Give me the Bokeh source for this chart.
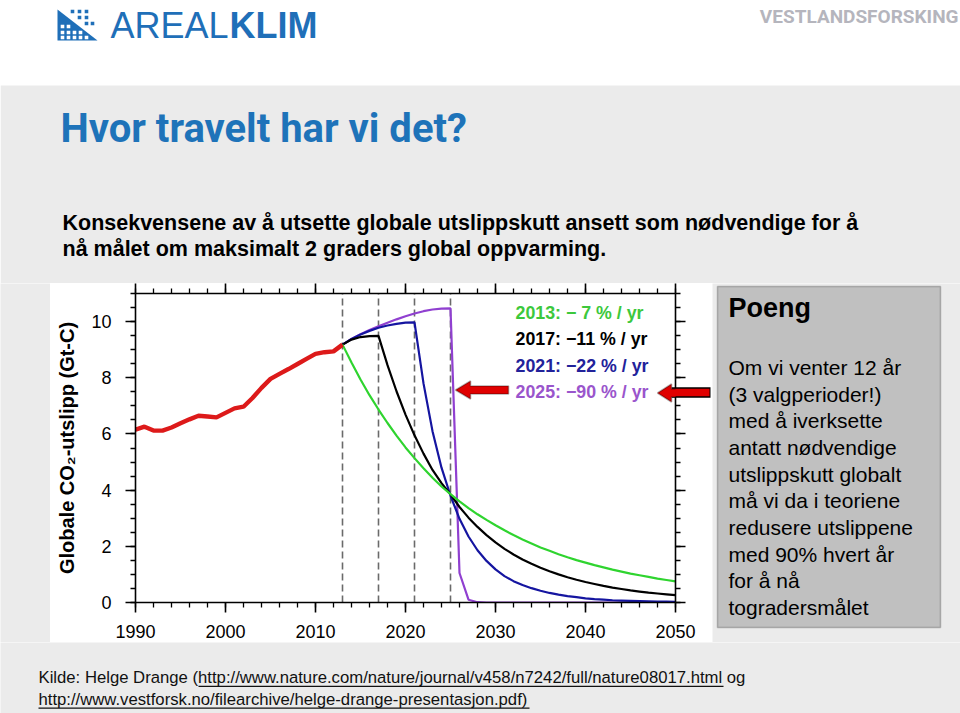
from bokeh.plotting import figure
from bokeh.layouts import column, row
from bokeh.models import (Range1d, LinearAxis, SingleIntervalTicker, FixedTicker, Label,
                          BoxAnnotation, PolyAnnotation, CustomJSTickFormatter)
from bokeh.embed import file_html
from bokeh.resources import INLINE

# ---------------- data ----------------
hist_years = list(range(1990, 2014))
hist_emissions = [6.15, 6.26, 6.12, 6.12, 6.23, 6.38, 6.52, 6.65, 6.62, 6.59,
                  6.75, 6.91, 6.97, 7.28, 7.64, 7.96, 8.14, 8.31, 8.49, 8.67,
                  8.85, 8.91, 8.94, 9.18]

scen_years = list(range(2013, 2051))
green_2013 = [9.18, 8.54, 7.94, 7.38, 6.87, 6.39, 5.94, 5.52, 5.14, 4.78,
              4.44, 4.13, 3.86, 3.60, 3.36, 3.14, 2.94, 2.75, 2.57, 2.40,
              2.24, 2.10, 1.96, 1.84, 1.72, 1.61, 1.51, 1.42, 1.33, 1.25,
              1.17, 1.10, 1.03, 0.97, 0.91, 0.85, 0.80, 0.75]
black_2017 = [9.18, 9.36, 9.45, 9.48, 9.49, 8.45, 7.52, 6.69, 5.95, 5.30,
              4.72, 4.25, 3.85, 3.40, 3.02, 2.69, 2.40, 2.14, 1.91, 1.71,
              1.53, 1.38, 1.24, 1.11, 1.00, 0.90, 0.81, 0.73, 0.66, 0.59,
              0.53, 0.48, 0.43, 0.39, 0.35, 0.32, 0.29, 0.26]
blue_2021 = [9.18, 9.38, 9.54, 9.67, 9.78, 9.86, 9.92, 9.96, 9.97, 7.80,
             6.10, 4.80, 3.80, 2.98, 2.35, 1.86, 1.48, 1.18, 0.94, 0.76,
             0.62, 0.51, 0.42, 0.34, 0.28, 0.23, 0.19, 0.15, 0.12, 0.10,
             0.08, 0.07, 0.06, 0.05, 0.04, 0.03, 0.03, 0.02]
purple_2025 = [9.18, 9.38, 9.55, 9.70, 9.83, 9.96, 10.08, 10.19, 10.29, 10.37,
               10.43, 10.46, 10.47, 1.05, 0.10, 0.01, 0.00, 0.00, 0.00, 0.00,
               0.00, 0.00, 0.00, 0.00, 0.00, 0.00, 0.00, 0.00, 0.00, 0.00,
               0.00, 0.00, 0.00, 0.00, 0.00, 0.00, 0.00, 0.00]

start_years = [2013, 2017, 2021, 2025]
legend_labels = ["2013: \u2212  7 % / yr", "2017: \u221211 % / yr",
                 "2021: \u221222 % / yr", "2025: \u221290 % / yr"]
x_start, x_end, x_major, x_minor = 1990, 2050, 10, 5
y_start, y_end, y_major, y_minor = 0, 11, 2, 4
arrow_level = [7.46]          # height of the right-hand arrow shaft

box_title = "Poeng"
box_lines = ["Om vi venter 12 år", "(3 valgperioder!)", "med å iverksette",
             "antatt nødvendige", "utslippskutt globalt", "må vi da i teoriene",
             "redusere utslippene", "med 90% hvert år", "for å nå",
             "togradersmålet"]

# ---------------- styling ----------------
FONT = "Liberation Sans"
TITLE_FONT = "Roboto"
GREEN, BLACK, BLUE, PURPLE, RED = "#2fd42f", "#000000", "#1515a0", "#9040d0", "#dd1a1a"
LEG_COLORS = ["#3cc83c", "#000000", "#22229a", "#9a55cc"]
ARROW_RED = "#e00000"
BG = "#ebebeb"
LOGO = "#1f6fb8"
W, H = 960, 713


def page_fig(x0, x1, y0, y1, bg):
    f = figure(width=x1 - x0, height=y1 - y0, x_range=Range1d(x0, x1),
               y_range=Range1d(y1, y0), output_backend="svg", toolbar_location=None,
               x_axis_location=None, y_axis_location=None,
               min_border_left=0, min_border_right=0, min_border_top=0,
               min_border_bottom=0)
    f.grid.visible = False
    f.outline_line_color = None
    f.background_fill_color = bg
    f.border_fill_color = bg
    return f


def no_align(f):
    try:
        f.frame_align = False
    except Exception:
        pass


def dlabel(f, px, py, text, size, color="black", bold=False, font=FONT,
           align="left"):
    f.add_layout(Label(x=px, y=py, text=text, text_font=font,
                       text_font_size=f"{size}px",
                       text_font_style="bold" if bold else "normal",
                       text_color=color, text_align=align, text_baseline="middle"))


def dbox(f, l, t, r, b, fill, line=None, lw=1.0, level="underlay"):
    f.add_layout(BoxAnnotation(left=l, right=r, top=t, bottom=b, fill_color=fill,
                               fill_alpha=1.0, line_color=line, line_width=lw,
                               level=level))


def dpoly(f, pts, fill, line=None, lw=1.0, level="overlay"):
    f.add_layout(PolyAnnotation(xs=[a for a, _ in pts], ys=[b for _, b in pts],
                                fill_color=fill, fill_alpha=1.0, line_color=line,
                                line_width=lw, level=level))


# ================= header (page y 0..283) =================
hdr = page_fig(0, W, 0, 283, "white")
dbox(hdr, 0, 85, W, 283, BG)
dpoly(hdr, [(57, 9), (57, 40), (97, 40)], LOGO)
for (cx, cy) in [(62, 26), (68, 26), (62, 32), (68, 32), (74, 32), (80, 32),
                 (62, 37), (68, 37), (74, 37), (80, 37), (86, 37)]:
    dbox(hdr, cx - 1.8, cy - 1.8, cx + 1.8, cy + 1.8, "white", level="overlay")
for (cx, cy) in [(72, 11), (79, 11), (86, 11), (79, 17), (86, 17), (86, 23), (92, 23)]:
    dbox(hdr, cx - 1.8, cy - 1.8, cx + 1.8, cy + 1.8, LOGO, level="overlay")
dlabel(hdr, 110, 25, "AREAL", 36, color=LOGO)
dlabel(hdr, 229, 25, "KLIM", 36, color=LOGO, bold=True)
dlabel(hdr, 958, 16, "VESTLANDSFORSKING", 19, color="#b5b5bd", bold=True,
       font=TITLE_FONT, align="right")
dlabel(hdr, 60, 128, "Hvor travelt har vi det?", 40, color="#1e73b9", bold=True,
       font=TITLE_FONT)
dlabel(hdr, 62, 222,
       "Konsekvensene av å utsette globale utslippskutt ansett som nødvendige for å",
       21.5, bold=True)
dlabel(hdr, 62, 248, "nå målet om maksimalt 2 graders global oppvarming.", 21.5,
       bold=True)

# ================= left strip =================
strip = page_fig(0, 50, 283, 642, BG)

# ================= chart (page x 50..712, y 283..642) =================
FL, FB = 135, 602
p = figure(width=662, height=359, x_range=Range1d(x_start, x_end),
           y_range=Range1d(y_start, y_end), output_backend="svg",
           toolbar_location=None, x_axis_location=None, y_axis_location=None,
           min_border_left=85, min_border_right=37, min_border_top=10,
           min_border_bottom=40)
p.grid.visible = False
p.outline_line_color = None
p.background_fill_color = "white"
p.border_fill_color = "white"


def sx(px):
    return px - FL


def sy(py):
    return FB - py


def make_axis(interval, minors, labels=True):
    ax = LinearAxis(ticker=SingleIntervalTicker(interval=interval, num_minor_ticks=minors))
    ax.axis_line_width = 1.6
    ax.major_tick_line_width = 1.6
    ax.minor_tick_line_width = 1.3
    ax.major_tick_in = 0
    ax.major_tick_out = 10
    ax.minor_tick_in = 0
    ax.minor_tick_out = 5
    ax.major_label_text_font = FONT
    ax.major_label_text_font_size = "18px"
    ax.major_label_text_color = "black"
    if not labels:
        ax.formatter = CustomJSTickFormatter(code="return ''")
        ax.major_label_standoff = 0
    return ax


xb = make_axis(x_major, x_minor)
xb.major_label_standoff = 12
p.add_layout(xb, "below")
p.add_layout(make_axis(x_major, x_minor, labels=False), "above")
yl = make_axis(y_major, y_minor)
yl.major_label_standoff = 14
yl.axis_label = "Globale CO\u2082-utslipp (Gt-C)"
yl.axis_label_text_font = FONT
yl.axis_label_text_font_style = "bold"
yl.axis_label_text_font_size = "20px"
yl.axis_label_text_color = "black"
yl.axis_label_standoff = 10
p.add_layout(yl, "left")
p.add_layout(make_axis(y_major, y_minor, labels=False), "right")

# shaft of the right-hand arrow, drawn by a tick-only axis outside the frame
arr = LinearAxis(ticker=FixedTicker(ticks=arrow_level, minor_ticks=arrow_level),
                 formatter=CustomJSTickFormatter(code="return ''"))
arr.axis_line_color = None
arr.major_label_standoff = 0
arr.major_tick_line_color = "black"
arr.major_tick_line_width = 10.5
arr.major_tick_in = 14
arr.major_tick_out = 25
arr.minor_tick_line_color = ARROW_RED
arr.minor_tick_line_width = 7.6
arr.minor_tick_in = 14
arr.minor_tick_out = 24
p.add_layout(arr, "right")

# dashed start-year lines
p.segment(x0=start_years, x1=start_years, y0=[y_start] * 4, y1=[y_end] * 4,
          line_color="#6a6a6a", line_width=1.6, line_dash="7 4")

# scenario curves and history
p.line(scen_years, purple_2025, line_color=PURPLE, line_width=2.2)
p.line(scen_years, blue_2021, line_color=BLUE, line_width=2.2)
p.line(scen_years, black_2017, line_color=BLACK, line_width=2.2)
p.line(scen_years, green_2013, line_color=GREEN, line_width=2.2)
p.line(hist_years, hist_emissions, line_color=RED, line_width=4.4)

# legend text
for i, (txt, col) in enumerate(zip(legend_labels, LEG_COLORS)):
    p.add_layout(Label(x=sx(515), y=sy(312 + i * 26.6), x_units="screen",
                       y_units="screen", text=txt, text_font=FONT,
                       text_font_size="17.8px", text_font_style="bold",
                       text_color=col, text_baseline="middle"))


def spoly(pts):
    p.add_layout(PolyAnnotation(xs=[sx(a) for a, _ in pts], ys=[sy(b) for _, b in pts],
                                xs_units="screen", ys_units="screen",
                                fill_color=ARROW_RED, fill_alpha=1.0,
                                line_color="black", line_width=1.6, level="overlay"))


spoly([(455, 389.5), (470, 380.5), (470, 385.5), (508, 385.5), (508, 393.5),
       (470, 393.5), (470, 398.5)])
spoly([(657, 392.5), (671, 383.5), (671, 388.5), (690, 388.5), (690, 396.5),
       (671, 396.5), (671, 401.5)])

# ================= info box (page x 712..960) =================
bx = page_fig(712, W, 283, 642, BG)
dbox(bx, 717, 286, 940, 627, "#c0c0c0", line="#3a3a3a", lw=1.5)
dlabel(bx, 728, 307, box_title, 27, bold=True)
for i, line in enumerate(box_lines):
    dlabel(bx, 728, 367 + i * 26.65, line, 21)

for f in (strip, p, bx):
    no_align(f)

# ================= footer (page y 642..713) =================
ft = page_fig(0, W, 642, H, BG)
dlabel(ft, 38, 677,
       "Kilde: Helge Drange (http://www.nature.com/nature/journal/v458/n7242/full/nature08017.html og",
       16.7, color="#111111")
dlabel(ft, 38, 699, "http://www.vestforsk.no/filearchive/helge-drange-presentasjon.pdf)",
       16.7, color="#111111")
dbox(ft, 198, 685.3, 723, 686.5, "#111111", level="overlay")
dbox(ft, 38, 707.1, 529, 708.3, "#111111", level="overlay")

layout = column(hdr, row(strip, p, bx), ft)
open("out.html", "w").write(file_html(layout, INLINE))
